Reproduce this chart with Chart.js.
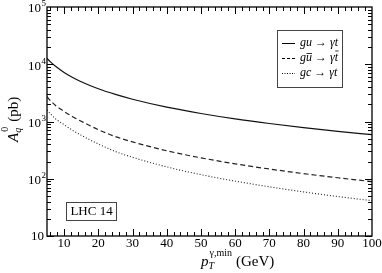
<!DOCTYPE html>
<html lang="en">
<head>
<meta charset="UTF-8">
<title>A_q^0 vs pT min</title>
<script src="https://cdn.jsdelivr.net/npm/chart.js"></script>
<style>
  body { margin: 0; background: #fff; }
  #c { display: block; }
</style>
</head>
<body>
<canvas id="c" width="382" height="273"></canvas>
<script>
// pT^{gamma,min} in GeV
const ptMin = [5, 6, 7.5, 10, 12.5, 15, 20, 25, 30, 40, 50, 60, 70, 80, 90, 100];
// A_q^0 in pb
const guToGt = [12700, 11000, 9200, 7180, 5870, 4950, 3730, 2970, 2450, 1780, 1380, 1110, 923, 782, 673, 588];
const guBarToGtBar = [2710, 2320, 1900, 1500, 1210, 1010, 720, 545, 440, 308, 232, 182, 148, 123, 104, 89];
const gcToGt = [1590, 1360, 1110, 880, 700, 575, 405, 299, 237, 161, 118, 90.8, 72.3, 58.9, 48.9, 41.4];

const xTicks = [10, 20, 30, 40, 50, 60, 70, 80, 90, 100];
const yExponents = [1, 2, 3, 4, 5];

const serif = '"Liberation Serif", "DejaVu Serif", serif';

function pts(vals) {
  return ptMin.map((x, i) => ({ x: x, y: vals[i] }));
}

const framePlugin = {
  id: 'frame',
  afterDatasetsDraw(chart) {
    const ctx = chart.ctx;
    const a = chart.chartArea;
    const xs = chart.scales.x, ys = chart.scales.y;
    ctx.save();
    ctx.strokeStyle = '#000';

    // frame
    ctx.lineWidth = 1.3;
    ctx.strokeRect(a.left, a.top, a.right - a.left, a.bottom - a.top);

    // inward ticks, all four sides
    ctx.lineWidth = 1;
    ctx.beginPath();
    for (let v = 6; v < 100; v += 2) {
      const px = Math.round(xs.getPixelForValue(v)) + 0.5;
      const len = v % 10 === 0 ? 7 : 4;
      ctx.moveTo(px, a.bottom); ctx.lineTo(px, a.bottom - len);
      ctx.moveTo(px, a.top); ctx.lineTo(px, a.top + len);
    }
    for (let d = 10; d < 1e5; d *= 10) {
      for (let m = 1; m <= 9; m++) {
        const py = Math.round(ys.getPixelForValue(m * d)) + 0.5;
        const len = m === 1 ? 7 : 4;
        ctx.moveTo(a.left, py); ctx.lineTo(a.left + len, py);
        ctx.moveTo(a.right, py); ctx.lineTo(a.right - len, py);
      }
    }
    ctx.stroke();

    ctx.fillStyle = '#000';
    // x tick labels
    ctx.font = '13px ' + serif;
    ctx.textAlign = 'center';
    ctx.textBaseline = 'middle';
    xTicks.forEach(v => {
      ctx.fillText(String(v), xs.getPixelForValue(v), a.bottom + 8);
    });

    // y tick labels 10^n
    yExponents.forEach(e => {
      const py = ys.getPixelForValue(Math.pow(10, e));
      ctx.font = '13px ' + serif;
      ctx.textBaseline = 'middle';
      ctx.textAlign = 'right';
      if (e === 1) {
        ctx.fillText('10', 44, py + 1);
      } else {
        ctx.fillText('10', 41, py + 2);
        ctx.font = '9px ' + serif;
        ctx.textAlign = 'left';
        ctx.fillText(String(e), 41.5, py - 3);
      }
    });

    // x axis title: p_T^{gamma,min} (GeV)
    let x = 201;
    const by = 266;
    ctx.textAlign = 'left';
    ctx.textBaseline = 'alphabetic';
    ctx.font = 'italic 15px ' + serif;
    ctx.fillText('p', x, by);
    x += ctx.measureText('p').width;
    ctx.font = 'italic 10px ' + serif;
    ctx.fillText('T', x, by + 3);
    ctx.font = '10px ' + serif;
    ctx.fillText('γ,min', x + 1, by - 10);
    x += ctx.measureText('γ,min').width + 5;
    ctx.font = '15px ' + serif;
    ctx.fillText('(GeV)', x, by);

    // y axis title: A_q^0 (pb)
    ctx.save();
    ctx.translate(18, 142);
    ctx.rotate(-Math.PI / 2);
    let t = 0;
    ctx.font = 'italic 15px ' + serif;
    ctx.fillText('A', t, 0);
    t += ctx.measureText('A').width;
    ctx.font = 'italic 10px ' + serif;
    ctx.fillText('q', t, 3);
    ctx.font = '10px ' + serif;
    ctx.fillText('0', t + 1, -10);
    t += ctx.measureText('0').width + 6;
    ctx.font = '15px ' + serif;
    ctx.fillText('(pb)', t, 0);
    ctx.restore();

    // legend box
    ctx.lineWidth = 1;
    ctx.strokeStyle = '#444';
    ctx.strokeRect(277.5, 30.5, 65, 57);
    ctx.strokeStyle = '#000';
    const rows = [
      { y: 43, dash: [], label: 'gu → γt', bars: false },
      { y: 58, dash: [3, 2], label: 'gu → γt', bars: true },
      { y: 73, dash: [1, 1.5], label: 'gc → γt', bars: false }
    ];
    rows.forEach(r => {
      ctx.setLineDash(r.dash);
      ctx.beginPath();
      ctx.moveTo(282, r.y + 0.5); ctx.lineTo(295, r.y + 0.5);
      ctx.stroke();
      ctx.setLineDash([]);
      ctx.font = 'italic 12px ' + serif;
      ctx.textBaseline = 'middle';
      ctx.fillText(r.label, 300, r.y);
      if (r.bars) {
        const wg = ctx.measureText('g').width;
        const wu = ctx.measureText('u').width;
        const wPre = ctx.measureText('gu → γ').width;
        const wt = ctx.measureText('t').width;
        ctx.lineWidth = 0.8;
        ctx.beginPath();
        ctx.moveTo(300 + wg + 0.5, r.y - 4.5); ctx.lineTo(300 + wg + wu, r.y - 4.5);
        ctx.moveTo(300 + wPre + 0.5, r.y - 7); ctx.lineTo(300 + wPre + wt + 0.5, r.y - 7);
        ctx.stroke();
        ctx.lineWidth = 1;
      }
    });

    // LHC 14 box
    ctx.strokeStyle = '#444';
    ctx.strokeRect(66.5, 202.5, 50, 18);
    ctx.font = '13px ' + serif;
    ctx.textAlign = 'center';
    ctx.textBaseline = 'middle';
    ctx.fillText('LHC 14', 91.5, 212);

    ctx.restore();
  }
};

new Chart(document.getElementById('c'), {
  type: 'line',
  data: {
    datasets: [
      { data: pts(guToGt), borderColor: '#111', borderWidth: 1.2, borderDash: [] },
      { data: pts(guBarToGtBar), borderColor: '#222', borderWidth: 1.2, borderDash: [5, 3] },
      { data: pts(gcToGt), borderColor: '#222', borderWidth: 1.1, borderDash: [1, 2] }
    ]
  },
  options: {
    responsive: false,
    animation: false,
    layout: { padding: { left: 47, right: 10, top: 7, bottom: 37 } },
    elements: {
      point: { radius: 0 },
      line: { cubicInterpolationMode: 'monotone', fill: false }
    },
    plugins: { legend: { display: false }, tooltip: { enabled: false } },
    scales: {
      x: { type: 'linear', min: 5, max: 100, display: false },
      y: { type: 'logarithmic', min: 10, max: 100000, display: false }
    }
  },
  plugins: [framePlugin]
});
</script>
</body>
</html>
